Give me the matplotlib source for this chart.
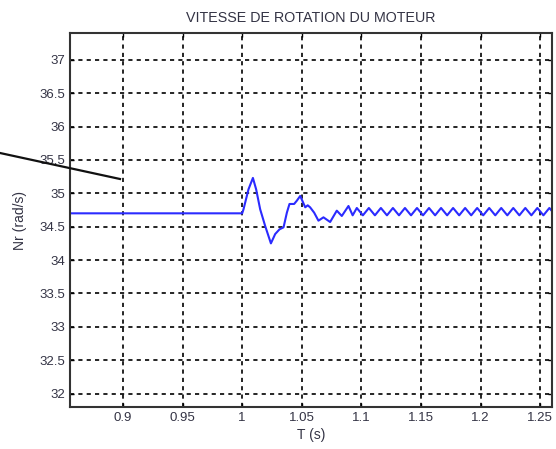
import matplotlib
matplotlib.use('Agg')
from matplotlib import pyplot as plt
from matplotlib.lines import Line2D

plt.rcParams['font.family'] = ['Liberation Sans', 'DejaVu Sans']

# speed trace: flat, transient at t = 1 s, then small steady ripple
t_flat = [0.8555, 1.0]
nr_flat = [34.70, 34.70]

t_trans = [1.0011, 1.0053, 1.0090, 1.0117, 1.0151, 1.0193, 1.0241, 1.0277,
           1.0313, 1.0347, 1.0375, 1.0397, 1.0436, 1.0459, 1.0487, 1.0529,
           1.0550, 1.0570, 1.0604, 1.0640, 1.0682, 1.0738, 1.0794, 1.0836,
           1.0892, 1.0927]
nr_trans = [34.76, 35.06, 35.23, 35.06, 34.76, 34.51, 34.25, 34.39,
            34.46, 34.49, 34.71, 34.84, 34.84, 34.89, 34.96, 34.79,
            34.82, 34.79, 34.71, 34.59, 34.64, 34.57, 34.74, 34.66,
            34.81, 34.67]

t_ripple = [1.0962, 1.1013, 1.1063, 1.1114, 1.1164, 1.1215, 1.1265, 1.1316,
            1.1366, 1.1417, 1.1467, 1.1518, 1.1568, 1.1619, 1.1669, 1.1720,
            1.1770, 1.1821, 1.1871, 1.1922, 1.1972, 1.2023, 1.2073, 1.2124,
            1.2174, 1.2225, 1.2275, 1.2326, 1.2376, 1.2427, 1.2477, 1.2528,
            1.2578, 1.2629]
nr_ripple = [34.78, 34.67, 34.78, 34.67, 34.78, 34.67, 34.78, 34.67,
             34.78, 34.67, 34.78, 34.67, 34.78, 34.67, 34.78, 34.67,
             34.78, 34.67, 34.78, 34.67, 34.78, 34.67, 34.78, 34.67,
             34.78, 34.67, 34.78, 34.67, 34.78, 34.67, 34.78, 34.67,
             34.78, 34.67]

x_ticks = [0.9, 0.95, 1.0, 1.05, 1.1, 1.15, 1.2, 1.25]
x_labels = ['0.9', '0.95', '1', '1.05', '1.1', '1.15', '1.2', '1.25']
y_ticks = [32, 32.5, 33, 33.5, 34, 34.5, 35, 35.5, 36, 36.5, 37]
y_labels = ['32', '32.5', '33', '33.5', '34', '34.5', '35', '35.5', '36', '36.5', '37']

t = t_flat + t_trans + t_ripple
nr = nr_flat + nr_trans + nr_ripple

fig = plt.figure(figsize=(5.56, 4.49), dpi=100)
ax = fig.add_axes([70 / 556, 1 - 407 / 449, 482 / 556, 374 / 449])

ax.plot(t, nr, color='#2b2bff', linewidth=1.5,
        solid_joinstyle='round', solid_capstyle='round')

ax.set_xlim(0.8555, 1.26)
ax.set_ylim(31.8, 37.4)
ax.set_xticks(x_ticks)
ax.set_xticklabels(x_labels)
ax.set_yticks(y_ticks)
ax.set_yticklabels(y_labels)
ax.tick_params(direction='in', length=3, width=1, labelsize=9.5,
               labelcolor='#333344', top=True, right=True)
ax.grid(True, color='black', linestyle=(0, (2.5, 2.5)), linewidth=1.2)
for s in ax.spines.values():
    s.set_linewidth(1.5)
    s.set_color('#333333')

ax.set_title('VITESSE DE ROTATION DU MOTEUR', fontsize=10.3, color='#333344', pad=8)
ax.set_xlabel('T (s)', fontsize=10, color='#333344', labelpad=3)
ax.set_ylabel('Nr (rad/s)', fontsize=10, color='#333344', labelpad=9)

# pointer line drawn over the figure
fig.add_artist(Line2D([0, 120 / 556], [1 - 153 / 449, 1 - 179 / 449],
                      color='#111111', linewidth=1.6))

fig.savefig('out.png', dpi=100)
